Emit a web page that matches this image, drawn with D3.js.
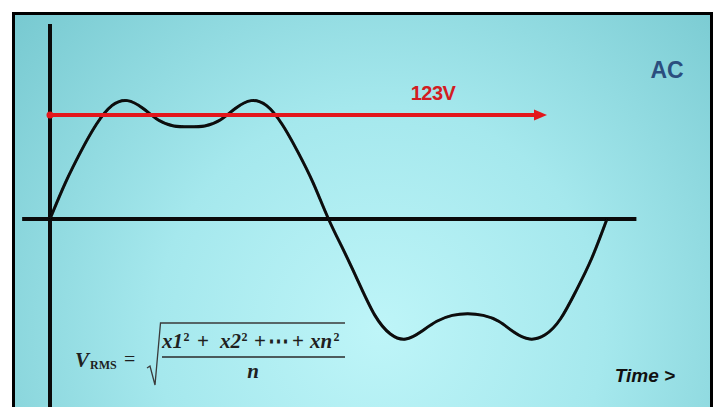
<!DOCTYPE html>
<html>
<head>
<meta charset="utf-8">
<script src="https://cdn.jsdelivr.net/npm/d3@7"></script>
<style>
  html, body { margin: 0; padding: 0; background: #ffffff; }
  svg { display: block; }
</style>
</head>
<body>
<svg id="chart" width="717" height="407"></svg>
<script>
// ---- data ----
const phaseDeg = [0, 10, 20, 30, 40, 50, 60, 70, 80, 90, 100, 110, 120, 130, 140, 150, 160, 170, 180,
                  190, 200, 210, 220, 230, 240, 250, 260, 270, 280, 290, 300, 310, 320, 330, 340, 350, 360];
const voltage  = [0, 43, 80, 112, 134, 140, 131, 117, 110, 109, 110, 117, 131, 140, 134, 112, 80, 43, 0,
                  -38, -77, -114, -136, -142, -133, -121, -114, -112, -114, -121, -134, -142, -137, -118, -85, -47, 0];
const rmsValue = 123;
const rmsLabel = "123V";
const typeLabel = "AC";
const timeLabel = "Time >";

// ---- drawing ----
const svg = d3.select("#chart");
const W = 717, H = 407;

const defs = svg.append("defs");
const grad = defs.append("radialGradient")
  .attr("id", "bg").attr("gradientUnits", "userSpaceOnUse")
  .attr("cx", 380).attr("cy", 330).attr("r", 560);
grad.append("stop").attr("offset", "0%").attr("stop-color", "#bef5f8");
grad.append("stop").attr("offset", "40%").attr("stop-color", "#a5e8ed");
grad.append("stop").attr("offset", "100%").attr("stop-color", "#6ac0c8");

const blur = defs.append("filter").attr("id", "soft").attr("x", "-5%").attr("y", "-20%")
  .attr("width", "110%").attr("height", "140%");
blur.append("feGaussianBlur").attr("stdDeviation", 0.4);

// panel
svg.append("rect").attr("x", 13.5).attr("y", 13.5).attr("width", 698).attr("height", 400)
  .attr("fill", "url(#bg)").attr("stroke", "#000").attr("stroke-width", 3);

// scales
const x = d3.scaleLinear().domain([0, 360]).range([50, 607]);
const y = d3.scaleLinear().domain([0, rmsValue]).range([219, 115]);

// axes
const axisG = svg.append("g").attr("stroke", "#0a0a0a").attr("stroke-linecap", "butt");
axisG.append("line").attr("x1", x(-18)).attr("x2", x(379)).attr("y1", y(0)).attr("y2", y(0))
  .attr("stroke-width", 4);
axisG.append("line").attr("x1", x(0)).attr("x2", x(0)).attr("y1", 24).attr("y2", H)
  .attr("stroke-width", 4);

// waveform
const pts = phaseDeg.map((p, i) => [p, voltage[i]]);
const line = d3.line().x(d => x(d[0])).y(d => y(d[1])).curve(d3.curveNatural);
svg.append("path").datum(pts).attr("d", line)
  .attr("fill", "none").attr("stroke", "#080808").attr("stroke-width", 3)
  .attr("stroke-linejoin", "round").attr("filter", "url(#soft)");

// RMS arrow
const redC = "#e3161c";
const ry = y(rmsValue);
const arrowEnd = 547;
svg.append("line").attr("x1", x(0)).attr("x2", arrowEnd - 10).attr("y1", ry).attr("y2", ry)
  .attr("stroke", redC).attr("stroke-width", 4);
svg.append("path")
  .attr("d", `M${arrowEnd - 13},${ry - 5.5} L${arrowEnd},${ry} L${arrowEnd - 13},${ry + 5.5} Z`)
  .attr("fill", redC);
svg.append("circle").attr("cx", x(0)).attr("cy", ry).attr("r", 3.5).attr("fill", redC);
svg.append("text").attr("x", 433).attr("y", 100).attr("text-anchor", "middle")
  .attr("font-family", "Liberation Sans, Arial, sans-serif").attr("font-weight", "bold")
  .attr("font-size", 20).attr("fill", "#d31c22").attr("letter-spacing", -0.5)
  .text(rmsLabel);

// AC label
svg.append("text").attr("x", 667).attr("y", 78).attr("text-anchor", "middle")
  .attr("font-family", "Liberation Sans, Arial, sans-serif").attr("font-weight", "bold")
  .attr("font-size", 23).attr("fill", "#2b4e7e")
  .text(typeLabel);

// Time label
svg.append("text").attr("x", 645).attr("y", 382).attr("text-anchor", "middle")
  .attr("font-family", "Liberation Sans, Arial, sans-serif").attr("font-weight", "bold")
  .attr("font-style", "italic").attr("font-size", 19).attr("fill", "#111")
  .text(timeLabel);

// RMS formula
const fg = svg.append("g").attr("fill", "#1f1f1f")
  .attr("font-family", "Liberation Serif, DejaVu Serif, serif").attr("font-weight", "bold");
const vt = fg.append("text").attr("x", 75).attr("y", 367).attr("font-size", 21);
vt.append("tspan").attr("font-style", "italic").text("V");
vt.append("tspan").attr("font-size", 12).attr("dx", 1).attr("dy", 2).text("RMS");
fg.append("text").attr("x", 124).attr("y", 366).attr("font-size", 20).attr("font-weight", "normal").text("=");

// radical sign
fg.append("path")
  .attr("d", "M147,368 L150,366 L155,385 L160.5,323 L345,323")
  .attr("fill", "none").attr("stroke", "#3a3a3a").attr("stroke-width", 1.3);
// fraction bar
fg.append("line").attr("x1", 162).attr("x2", 345).attr("y1", 357).attr("y2", 357)
  .attr("stroke", "#2a2a2a").attr("stroke-width", 1.3);

// numerator pieces: [text, x, isSup, italic]
const numParts = [
  ["x1", 162, false, true], ["2", 183.5, true, false], ["+", 197, false, false],
  ["x2", 220, false, true], ["2", 241.5, true, false], ["+", 254, false, false],
  ["⋯", 268, false, false], ["+", 292, false, false],
  ["xn", 310, false, true], ["2", 333.5, true, false]
];
numParts.forEach(([t, px, isSup, it]) => {
  fg.append("text").attr("x", px).attr("y", isSup ? 341 : 348)
    .attr("font-size", isSup ? 12 : 21).attr("font-style", it ? "italic" : "normal")
    .text(t);
});

fg.append("text").attr("x", 253).attr("y", 378).attr("text-anchor", "middle")
  .attr("font-size", 21).attr("font-style", "italic").text("n");
</script>
</body>
</html>
